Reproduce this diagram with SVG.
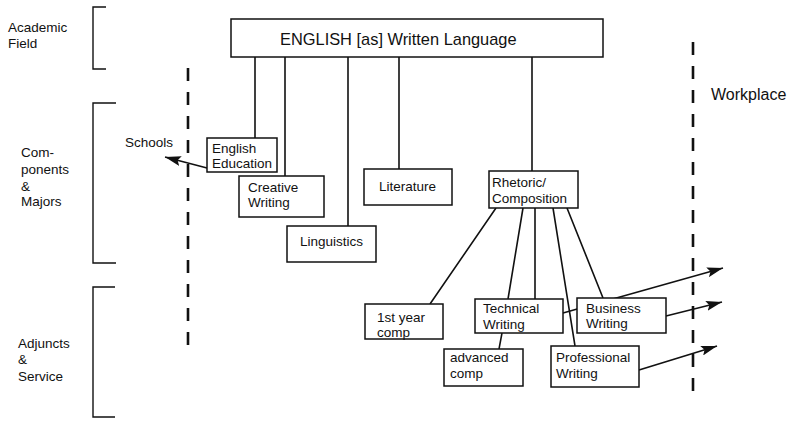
<svg xmlns="http://www.w3.org/2000/svg" width="791" height="422" viewBox="0 0 791 422">
<style>
text{font-family:"Liberation Sans",Arial,sans-serif;font-size:13.5px;fill:#111}
.box{fill:#fff;stroke:#111;stroke-width:1.5}
.ln{stroke:#111;stroke-width:1.6;fill:none}
.br{stroke:#111;stroke-width:1.4;fill:none}
.dash{stroke:#111;stroke-width:2.6;stroke-dasharray:13 11;fill:none}
</style>
<defs>
<marker id="ah" markerUnits="userSpaceOnUse" markerWidth="18" markerHeight="10" refX="16" refY="5" orient="auto">
<path d="M0,0 L16,5 L0,10 L3,5 Z" fill="#111"/>
</marker>
</defs>
<rect width="791" height="422" fill="#fff"/>
<g id="labels">
<path class="br" d="M106,7 H93 V69 H106"/>
<path class="br" d="M116,103 H93 V263 H116"/>
<path class="br" d="M115,287 H93 V417 H115"/>
<text x="8" y="32">Academic</text>
<text x="8" y="48">Field</text>
<text x="21" y="157">Com-</text>
<text x="21" y="174">ponents</text>
<text x="21" y="191">&amp;</text>
<text x="21" y="206">Majors</text>
<text x="18" y="348">Adjuncts</text>
<text x="18" y="364">&amp;</text>
<text x="18" y="381">Service</text>
<text x="125" y="147">Schools</text>
<text x="711" y="100" style="font-size:16px">Workplace</text>
<path class="dash" d="M188,68 V347"/>
<path class="dash" d="M693,42 V392"/>
</g>
<g id="connectors">
<path class="ln" d="M255,57 V138 M285,57 V176 M348,57 V226 M399,57 V169 M532,57 V171"/>
<path class="ln" d="M207,168 L165,157" marker-end="url(#ah)"/>
<path class="ln" d="M496,208 L430,304 M523,208 L508,299 M535,208 V299 M553,208 L575,346 M567,208 L603,298"/>
<path class="ln" d="M563,313 L723,268" marker-end="url(#ah)"/>
<path class="ln" d="M666,316 L722,302" marker-end="url(#ah)"/>
<path class="ln" d="M639,370 L717,346" marker-end="url(#ah)"/>
<path class="ln" d="M502,333 L499,349"/>
</g>
<g id="english">
<rect class="box" x="231" y="19" width="372" height="38"/>
<text x="280" y="45" style="font-size:16.4px">ENGLISH [as] Written Language</text>
</g>
<g id="english-education">
<rect class="box" x="207" y="138" width="70" height="34"/>
<text x="212" y="153">English</text>
<text x="212" y="168">Education</text>
</g>
<g id="creative-writing">
<rect class="box" x="239" y="176" width="85" height="41"/>
<text x="248" y="192">Creative</text>
<text x="248" y="207">Writing</text>
</g>
<g id="linguistics">
<rect class="box" x="287" y="226" width="89" height="36"/>
<text x="300" y="246">Linguistics</text>
</g>
<g id="literature">
<rect class="box" x="364" y="169" width="88" height="36"/>
<text x="379" y="191">Literature</text>
</g>
<g id="rhetoric">
<rect class="box" x="489" y="171" width="89" height="37"/>
<text x="492" y="187">Rhetoric/</text>
<text x="492" y="203">Composition</text>
</g>
<g id="first-year">
<rect class="box" x="365" y="304" width="78" height="35"/>
<text x="377" y="322">1st year</text>
<text x="377" y="337">comp</text>
</g>
<g id="technical">
<rect class="box" x="475" y="299" width="88" height="34"/>
<text x="483" y="313">Technical</text>
<text x="483" y="329">Writing</text>
</g>
<g id="business">
<rect class="box" x="577" y="298" width="89" height="35"/>
<text x="586" y="313">Business</text>
<text x="586" y="328">Writing</text>
</g>
<g id="advanced">
<rect class="box" x="444" y="349" width="79" height="37"/>
<text x="450" y="362">advanced</text>
<text x="450" y="378">comp</text>
</g>
<g id="professional">
<rect class="box" x="551" y="346" width="88" height="41"/>
<text x="556" y="362">Professional</text>
<text x="556" y="378">Writing</text>
</g>
</svg>
